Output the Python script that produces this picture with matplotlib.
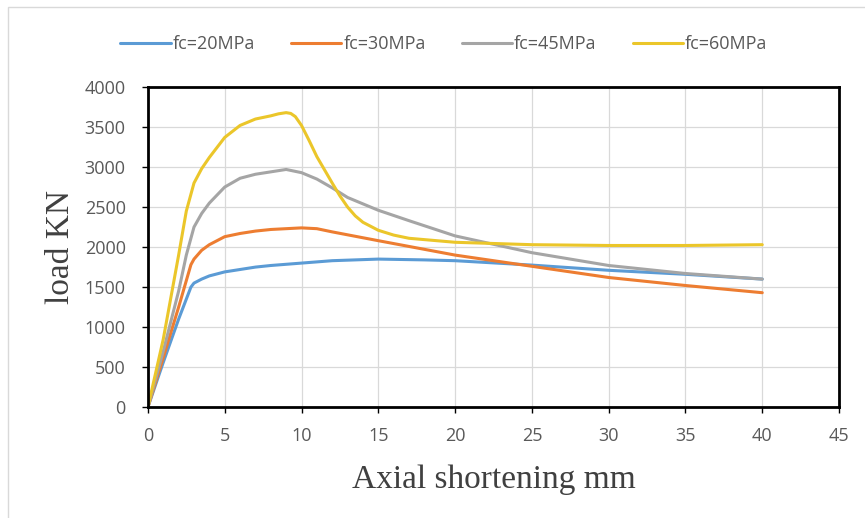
import matplotlib.pyplot as plt
from matplotlib.patches import Rectangle

# fc = 20 MPa
x20 = [0, 1, 2, 2.8, 3, 3.5, 4, 5, 6, 7, 8, 10, 12, 15, 18, 20, 25, 30, 35, 40]
y20 = [0, 560, 1100, 1500, 1550, 1600, 1640, 1690, 1720, 1750, 1770, 1800, 1830, 1850, 1840, 1830, 1775, 1710, 1660, 1600]

# fc = 30 MPa
x30 = [0, 1, 2, 2.8, 3, 3.5, 4, 5, 6, 7, 8, 10, 11, 12, 15, 20, 25, 30, 35, 40]
y30 = [0, 620, 1250, 1780, 1850, 1960, 2030, 2130, 2170, 2200, 2220, 2240, 2230, 2190, 2080, 1900, 1760, 1620, 1520, 1430]

# fc = 45 MPa
x45 = [0, 1, 2, 2.5, 3, 3.5, 4, 5, 6, 7, 8, 9, 10, 11, 12, 13, 15, 17, 20, 25, 30, 35, 40]
y45 = [0, 700, 1450, 1900, 2250, 2420, 2550, 2750, 2860, 2910, 2940, 2970, 2930, 2850, 2740, 2620, 2460, 2330, 2140, 1930, 1770, 1670, 1600]

# fc = 60 MPa
x60 = [0, 1, 2, 2.5, 3, 3.5, 4, 5, 6, 7, 8, 8.5, 9, 9.3, 9.6, 10, 10.5, 11, 12, 12.5, 13, 13.5, 14, 15, 16, 17, 20, 25, 30, 35, 40]
y60 = [0, 850, 1900, 2450, 2800, 2980, 3120, 3370, 3520, 3600, 3640, 3665, 3680, 3670, 3630, 3520, 3330, 3130, 2800, 2640, 2500, 2390, 2310, 2210, 2150, 2110, 2060, 2030, 2020, 2020, 2030]

series = [
    ("fc=20MPa", x20, y20, "#5B9BD5"),
    ("fc=30MPa", x30, y30, "#ED7D31"),
    ("fc=45MPa", x45, y45, "#A5A5A5"),
    ("fc=60MPa", x60, y60, "#EBC62A"),
]

fig = plt.figure(figsize=(8.65, 5.18), dpi=100)
ax = fig.add_axes([0.171, 0.214, 0.799, 0.618])

# light chart-area border (left and top visible in the reference)
fig.patches.append(Rectangle((0.009, -0.1), 1.2, 1.086, transform=fig.transFigure,
                             fill=False, edgecolor="#D9D9D9", linewidth=1.0))

for label, xs, ys, col in series:
    ax.plot(xs, ys, color=col, linewidth=2.2, label=label, solid_capstyle="round",
            solid_joinstyle="round")

ax.set_xlim(0, 45)
ax.set_ylim(0, 4000)
ax.set_xticks(range(0, 46, 5))
ax.set_yticks(range(0, 4001, 500))
ax.grid(True, color="#D9D9D9", linewidth=0.9)
ax.set_axisbelow(True)
for s in ax.spines.values():
    s.set_color("black")
    s.set_linewidth(2.0)
ax.tick_params(axis="both", labelcolor="#595959", color="black", labelsize=13,
               length=4, width=1, direction="out")
ax.tick_params(axis="x", pad=10)
ax.tick_params(axis="y", pad=12)
for lbl in ax.get_xticklabels() + ax.get_yticklabels():
    lbl.set_family("Open Sans")

ax.set_xlabel("Axial shortening mm", fontsize=24, family="Liberation Serif",
              color="#404040", labelpad=14)
ax.set_ylabel("load KN", fontsize=24, family="Liberation Serif",
              color="#404040", labelpad=6)

fig.legend(loc="center", bbox_to_anchor=(0.513, 0.915), ncol=4, frameon=False,
           prop={"family": "Open Sans", "size": 13}, handlelength=2.8,
           handletextpad=0.1, columnspacing=2.0, labelcolor="#595959")

fig.savefig("out.png", dpi=100)
